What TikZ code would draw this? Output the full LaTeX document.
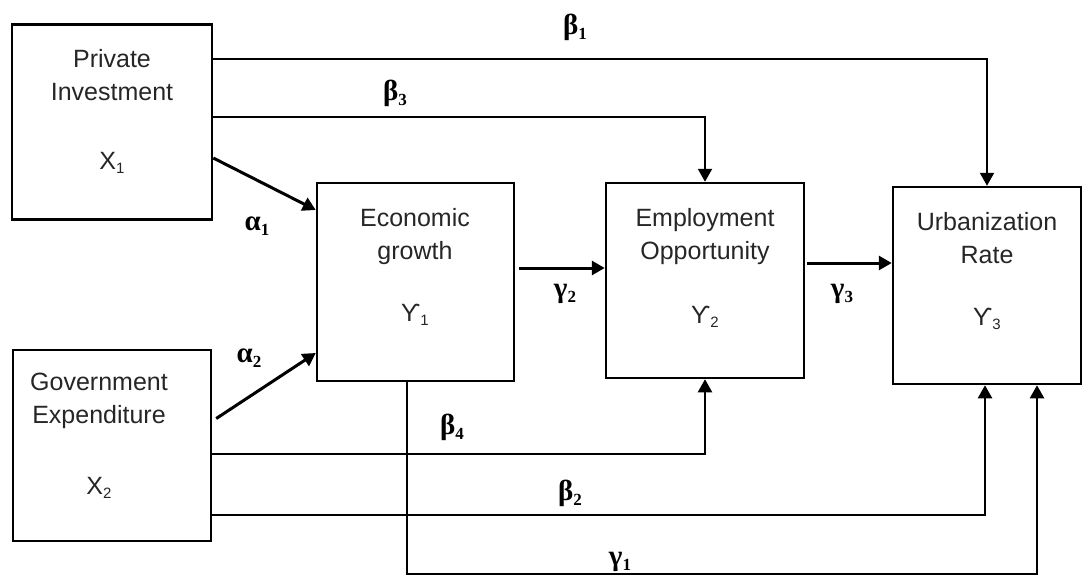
\documentclass[tikz,border=0pt]{standalone}
\usepackage{fontspec}
\setmainfont{Liberation Sans}
\newfontfamily\grkfont{Liberation Serif}
\usetikzlibrary{arrows,arrows.meta,positioning}
\newcommand{\idx}[1]{\raisebox{-4pt}{\fontsize{15}{15}\selectfont #1}}
\newcommand{\coef}[2]{{\grkfont\bfseries #1\raisebox{-5pt}{\fontsize{17}{17}\selectfont #2}}}
\tikzset{
    %Define standard arrow tip
    >={Triangle[length=13pt,width=14pt]},
    %Define style for boxes
    varbox/.style={
           rectangle,
           draw=black,
           line width=2.5pt},
    boxtext/.style={
           align=center,
           inner sep=0pt,
           text=black!85,
           font=\fontsize{25}{33}\selectfont},
    coeff/.style={
           inner sep=0pt,
           font=\fontsize{29}{30}\selectfont},
    % Define arrow style
    pil/.style={
           ->,
           line width=3pt},
    link/.style={
           ->,
           line width=2.2pt}
}
\begin{document}
\begin{tikzpicture}[x=1pt,y=-1pt]
\useasboundingbox (0,0) rectangle (1083,578);
% boxes
\node[varbox, minimum width=200pt, minimum height=195pt](pi) at (112,122){};
\node[varbox, minimum width=198pt, minimum height=191pt](ge) at (112,445.5){};
\node[varbox, minimum width=197pt, minimum height=198pt](eg) at (415.5,282){};
\node[varbox, minimum width=198pt, minimum height=195pt](eo) at (705,280.5){};
\node[varbox, minimum width=188pt, minimum height=197pt](ur) at (987,285.5){};
% box texts
\node[boxtext](pi-t) at (112,111){Private\\Investment\\[36pt]Χ\idx{1}};
\node[boxtext](ge-t) at (99,436){Government\\Expenditure\\[38pt]Χ\idx{2}};
\node[boxtext](eg-t) at (415,267){Economic\\growth\\[29pt]Ƴ\idx{1}};
\node[boxtext](eo-t) at (705,268){Employment\\Opportunity\\[31pt]Ƴ\idx{2}};
\node[boxtext](ur-t) at (987,271){Urbanization\\Rate\\[29pt]Ƴ\idx{3}};
% connectors
\draw[link] ([yshift=63pt]pi.east) -| (ur.north);
\draw[link] ([yshift=5pt]pi.east) -| (eo.north);
\draw[pil] ([yshift=-36pt]pi.east) -- ([yshift=72pt]eg.west);
\draw[pil] ([xshift=4pt,yshift=27pt]ge.east) -- ([yshift=-71pt]eg.west);
\draw[pil] ([xshift=4pt,yshift=14pt]eg.east) -- ([yshift=14pt]eg.east -| eo.west);
\draw[pil] ([xshift=2pt,yshift=17.5pt]eo.east) -- ([yshift=17.5pt]eo.east -| ur.west);
\draw[link] ([yshift=-8.5pt]ge.east) -| (eo.south);
\draw[link] ([yshift=-69.5pt]ge.east) -| ([xshift=-2pt]ur.south);
\draw[link] ([xshift=-8.5pt]eg.south) -- ++(0,192) -| ([xshift=50pt]ur.south);
% coefficients
\node[coeff](b1) at (575,27){\coef{β}{1}};
\node[coeff](b3) at (395,93){\coef{β}{3}};
\node[coeff](a1) at (257,226){\coef{α}{1}};
\node[coeff](a2) at (249,358){\coef{α}{2}};
\node[coeff](g2) at (565,294){\coef{γ}{2}};
\node[coeff](g3) at (842,294){\coef{γ}{3}};
\node[coeff](b4) at (452,427){\coef{β}{4}};
\node[coeff](b2) at (570,493){\coef{β}{2}};
\node[coeff](g1) at (620,562){\coef{γ}{1}};
\end{tikzpicture}
\end{document}
